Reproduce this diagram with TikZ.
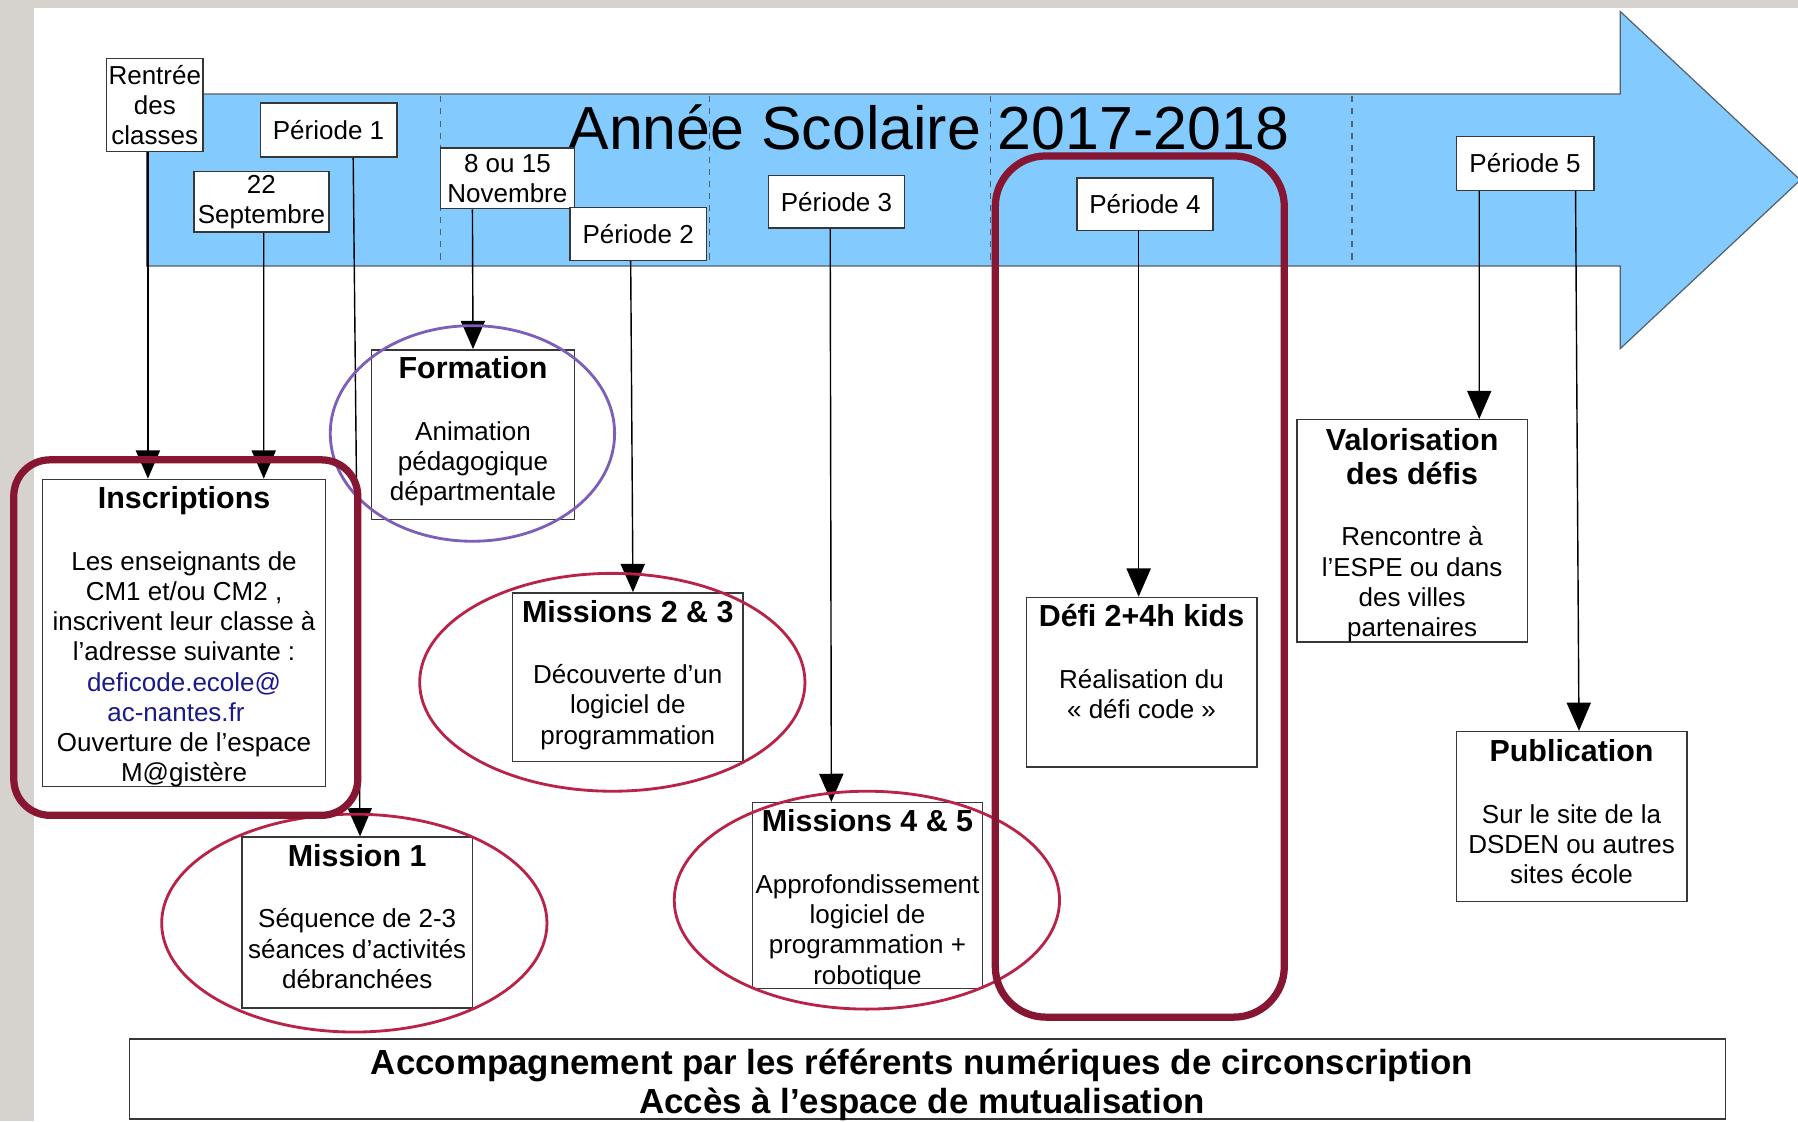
\documentclass[tikz,border=0pt]{standalone}
\usepackage{fontspec}
\setmainfont{Liberation Sans}
\usetikzlibrary{arrows.meta,positioning}

\definecolor{bggrey}{RGB}{214,211,206}
\definecolor{bandblue}{RGB}{131,202,255}
\definecolor{bandline}{RGB}{85,95,105}
\definecolor{boxline}{RGB}{55,55,55}
\definecolor{darkred}{RGB}{134,22,50}
\definecolor{ringred}{RGB}{185,35,72}
\definecolor{ringviolet}{RGB}{125,95,185}
\definecolor{linkblue}{RGB}{26,26,140}

\newcommand{\bodyfont}{\fontsize{12.9pt}{15pt}\selectfont}
\newcommand{\boxtitle}{\bfseries\fontsize{15.1pt}{17pt}\selectfont}

\begin{document}
\begin{tikzpicture}[x=0.02cm, y=-0.02cm,
    lbl/.style = {draw=boxline, fill=white, line width=0.75pt, align=center, inner sep=1pt, font=\bodyfont},
    card/.style = {draw=boxline, fill=white, line width=0.75pt, minimum width=4.02cm, minimum height=2.96cm},
    txt/.style = {align=center, inner sep=0pt, font=\bodyfont},
    conn/.style = {line width=0.7pt, -{Triangle[width=12pt,length=14pt]}},
    sep/.style = {draw=bandline, line width=0.6pt, dash pattern=on 3pt off 3pt},
    ring/.style = {line width=1.4pt},
    hilite/.style = {draw=darkred, line width=3.6pt}]
    \useasboundingbox (0,0) rectangle (1568,978);
    \fill[bggrey] (0,0) rectangle (1568,978);
    \fill[white] (30,7) rectangle (1568,978);

    % the year arrow
    \draw[fill=bandblue, draw=bandline, line width=0.6pt] (128,82) -- (1413,82) -- (1413,10) -- (1570,157) -- (1413,304) -- (1413,232) -- (128,232) -- cycle;
    \draw[sep] (384,84) -- (384,230);
    \draw[sep] (619,84) -- (619,230);
    \draw[sep] (864,84) -- (864,230);
    \draw[sep] (1179,84) -- (1179,230);
    \node[font=\fontsize{30.2pt}{36pt}\selectfont, anchor=base, inner sep=0pt] (annee) at (810,130) {Année Scolaire 2017-2018};

    % dates and periods
    \node[lbl, minimum width=1.68cm, minimum height=1.62cm] (rentree) at (135,91.5) {Rentrée\\des\\classes};
    \node[lbl, minimum width=2.38cm, minimum height=0.94cm] (p1) at (286.5,113.5) {Période 1};
    \node[lbl, minimum width=2.36cm, minimum height=1.06cm] (sept) at (228,176) {22\\Septembre};
    \node[lbl, minimum width=2.34cm, minimum height=1.06cm] (nov) at (442.5,155.5) {8 ou 15\\Novembre};
    \node[lbl, minimum width=2.38cm, minimum height=0.92cm] (p2) at (556.5,204) {Période 2};
    \node[lbl, minimum width=2.38cm, minimum height=0.92cm] (p3) at (729.5,176) {Période 3};
    \node[lbl, minimum width=2.38cm, minimum height=0.92cm] (p4) at (998.5,178) {Période 4};
    \node[lbl, minimum width=2.40cm, minimum height=0.94cm] (p5) at (1330,142.5) {Période 5};

    % actions
    \node[card, minimum width=4.94cm, minimum height=5.36cm] (insc) at (160.5,552) {};
    \node[txt, below=0.13cm of insc.north] (insc-t) {{\boxtitle Inscriptions}\\[15.6pt]Les enseignants de\\CM1 et/ou CM2 ,\\inscrivent leur classe à\\l’adresse suivante :\\{\color{linkblue}deficode.ecole@}\\\hbox{\color{linkblue}ac-nantes.fr\kern8pt}\\Ouverture de l’espace\\M@gistère};
    \node[card, minimum width=3.54cm] (form) at (412.5,379) {};
    \node[txt, below=0.13cm of form.north] (form-t) {{\boxtitle Formation}\\[15.6pt]Animation\\pédagogique\\départmentale};
    \node[card, minimum height=2.94cm] (m23) at (547.5,590.5) {};
    \node[txt, below=0.13cm of m23.north] (m23-t) {{\boxtitle Missions 2 \& 3}\\[15.6pt]Découverte d’un\\logiciel de\\programmation};
    \node[card, minimum height=2.98cm] (m1) at (311.5,804.5) {};
    \node[txt, below=0.13cm of m1.north] (m1-t) {{\boxtitle Mission 1}\\[15.6pt]Séquence de 2-3\\séances d’activités\\débranchées};
    \node[card, minimum height=3.24cm] (m45) at (756.5,781) {};
    \node[txt, below=0.13cm of m45.north] (m45-t) {{\boxtitle Missions 4 \& 5}\\[15.6pt]Approfondissement\\logiciel de\\programmation +\\robotique};
    \node[card] (defi) at (995.5,595) {};
    \node[txt, below=0.13cm of defi.north] (defi-t) {{\boxtitle Défi 2+4h kids}\\[15.6pt]Réalisation du\\« défi code »};
    \node[card, minimum height=3.88cm] (valo) at (1231.5,463) {};
    \node[txt, below=0.15cm of valo.north] (valo-t) {{\boxtitle Valorisation}\\[2pt]{\boxtitle des défis}\\[15.6pt]Rencontre à\\l’ESPE ou dans\\des villes\\partenaires};
    \node[card] (publi) at (1370.5,712) {};
    \node[txt, below=0.15cm of publi.north] (publi-t) {{\boxtitle Publication}\\[15.6pt]Sur le site de la\\DSDEN ou autres\\sites école};
    \node[card, minimum width=27.84cm, minimum height=1.4cm] (accomp) at (809,941) {};
    \node[txt, font=\bfseries\fontsize{17.3pt}{19.8pt}\selectfont] (accomp-t) at (804,946) {Accompagnement par les référents numériques de circonscription\\Accès à l’espace de mutualisation};

    % links
    \draw[conn] ([shift={(-6,0)}]rentree.south) -- ([shift={(-31.5,0)}]insc.north);
    \draw[conn] ([shift={(2,0)}]sept.south) -- ([shift={(69.5,0)}]insc.north);
    \draw[conn] ([shift={(21.5,0)}]p1.south) -- ([shift={(2.5,0)}]m1.north);
    \draw[conn] ([shift={(-30.5,0)}]nov.south) -- (form.north);
    \draw[conn] ([shift={(-6.5,0)}]p2.south) -- ([shift={(4.5,0)}]m23.north);
    \draw[conn] ([shift={(-5.5,0)}]p3.south) -- ([shift={(-31.5,0)}]m45.north);
    \draw[conn] ([shift={(-5.5,0)}]p4.south) -- ([shift={(-2.5,0)}]defi.north);
    \draw[conn] ([shift={(-40,0)}]p5.south) -- ([shift={(58.5,0)}]valo.north);
    \draw[conn] ([shift={(44,0)}]p5.south) -- ([shift={(6.5,0)}]publi.north);

    % highlights
    \draw[ring, ringviolet] (412,378) ellipse [x radius=124, y radius=94];
    \draw[ring, ringred] (534,595) ellipse [x radius=168, y radius=95];
    \draw[ring, ringred] (309,805) ellipse [x radius=168, y radius=95];
    \draw[ring, ringred] (756,785) ellipse [x radius=168, y radius=95];
    \draw[hilite, rounded corners=18pt] (12,401) rectangle (312,711);
    \draw[hilite, rounded corners=25pt] (868,136) rectangle (1120,887);
\end{tikzpicture}
\end{document}
